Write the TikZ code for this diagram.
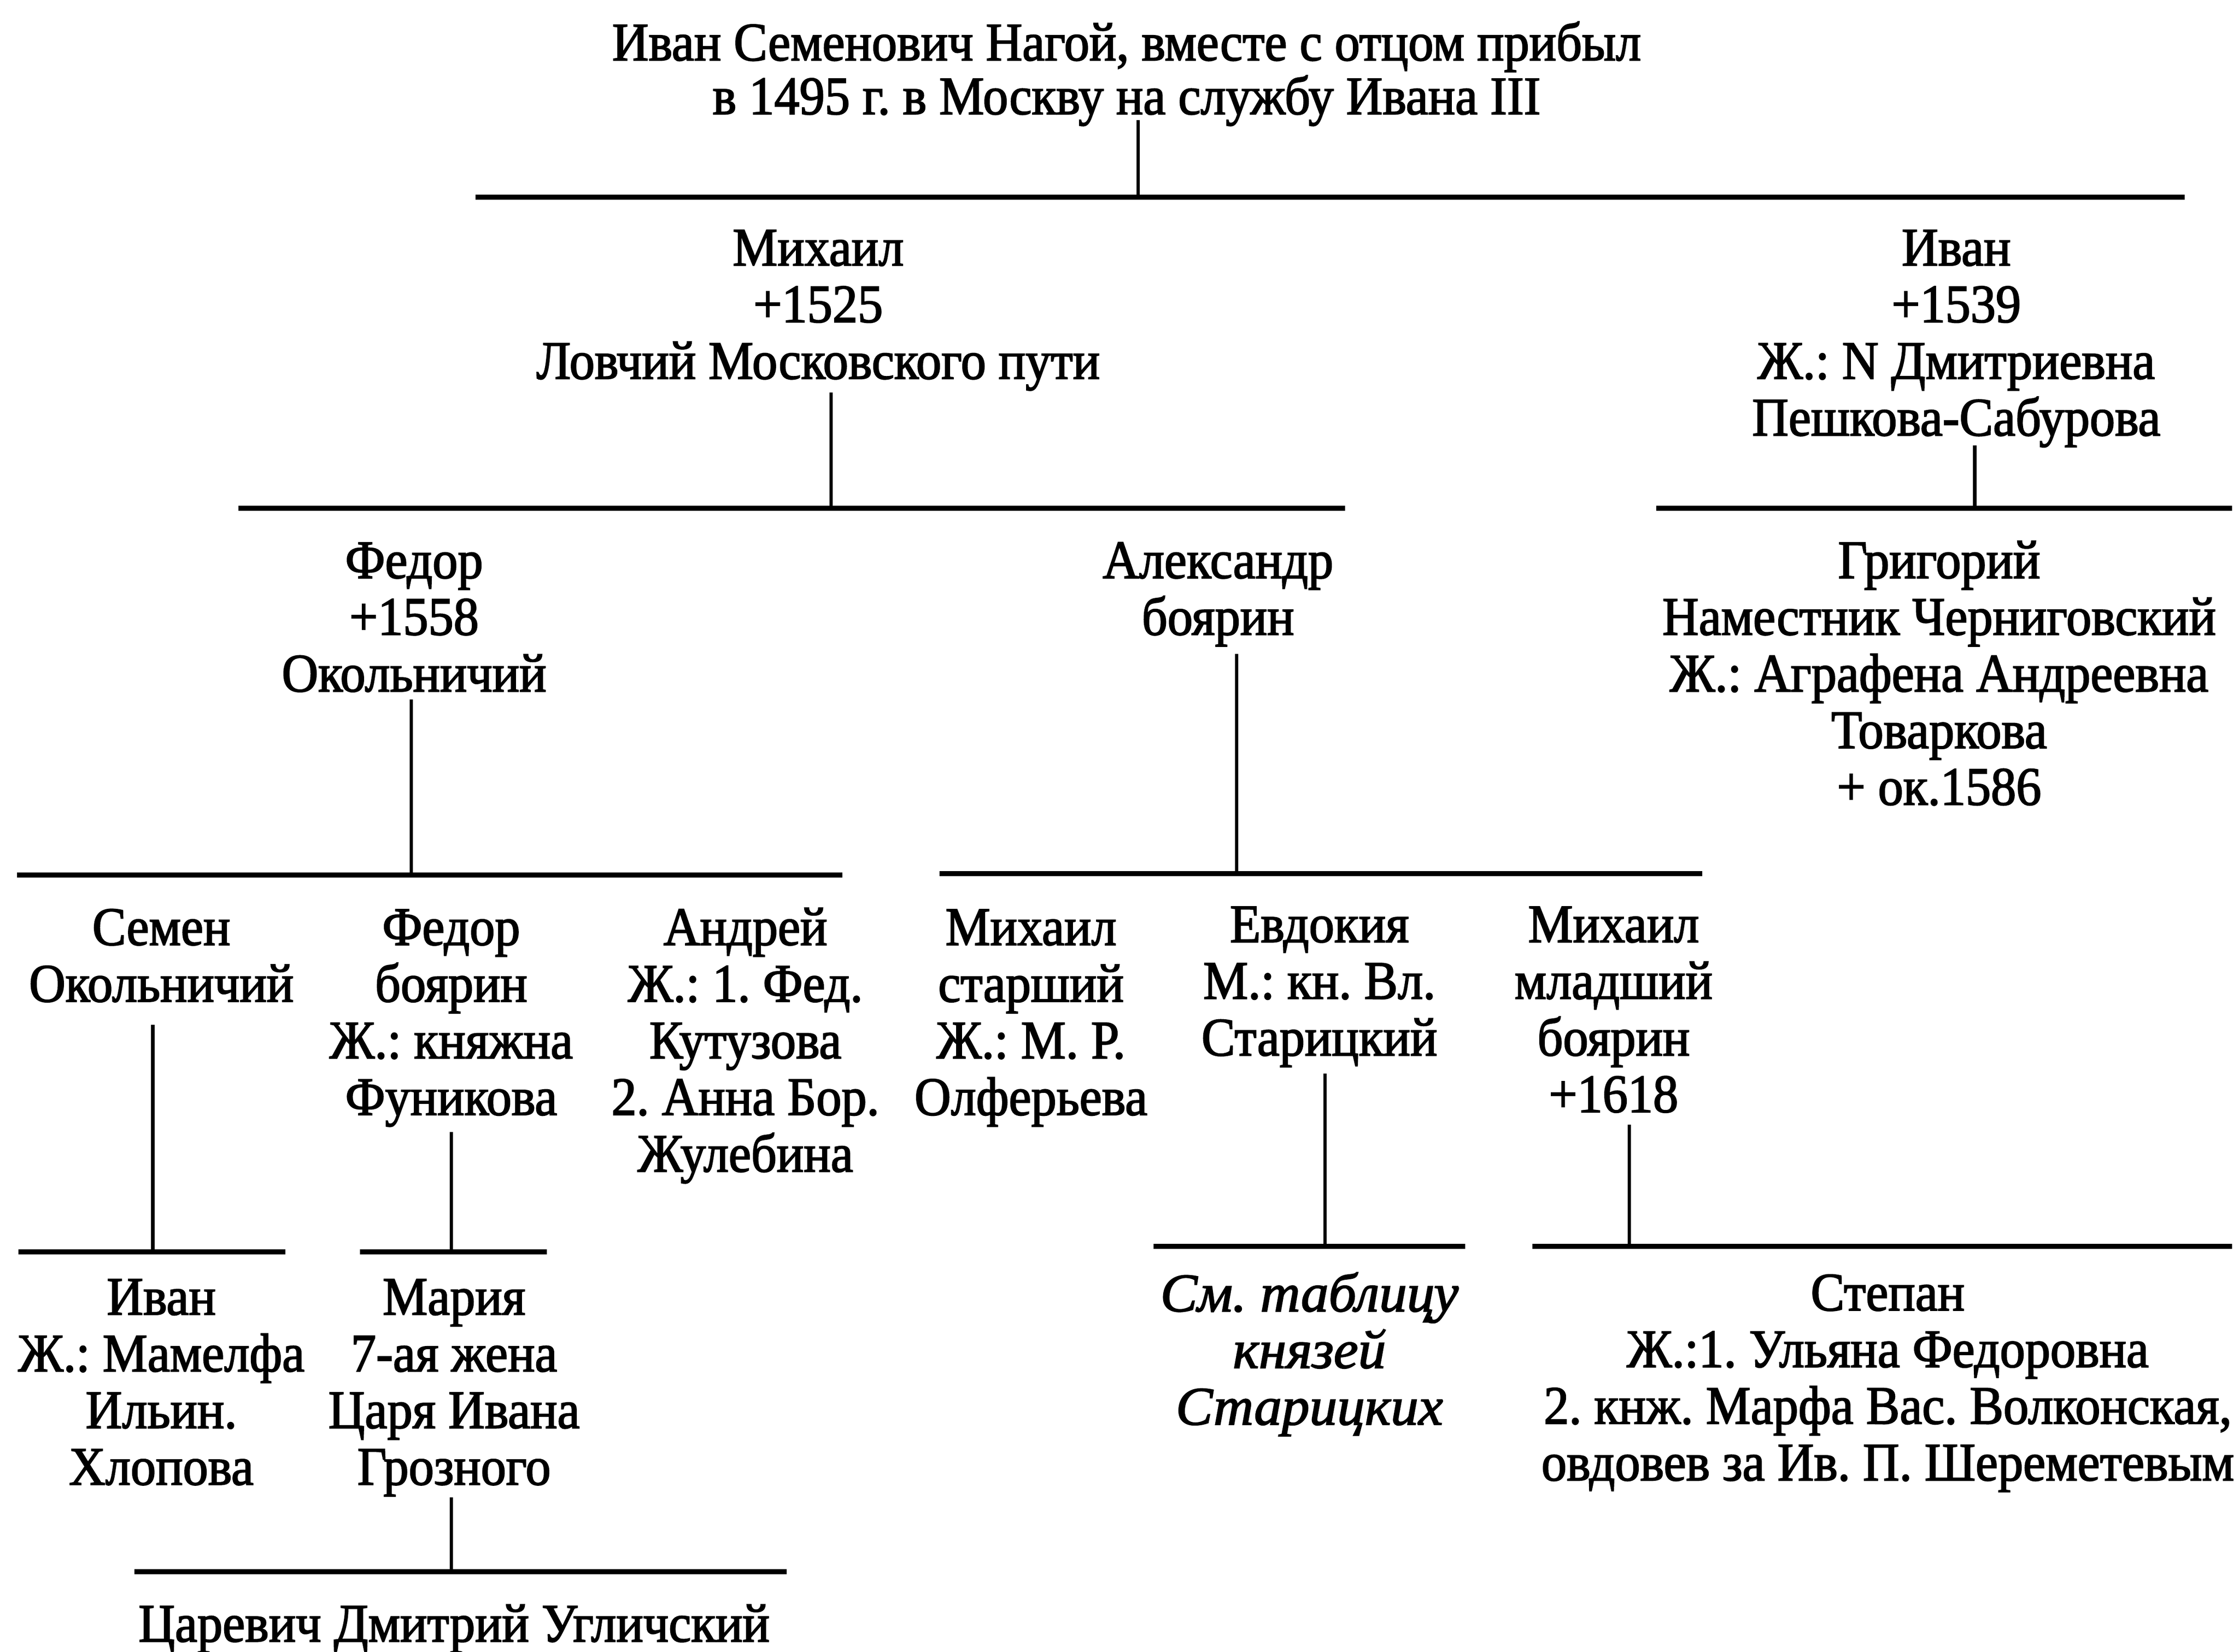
\documentclass[tikz,border=0pt]{standalone}
\usepackage{fontspec}
\newfontfamily\pf{Liberation Serif}[FakeBold=2, FakeStretch=0.93]
\newfontfamily\pfi{Liberation Serif Italic}[FakeBold=2, FakeStretch=1.02]
\newcommand\pfont{\pf\fontsize{38}{39.7}\selectfont\frenchspacing}
\newcommand\pfontit{\pfi\fontsize{38}{39.7}\selectfont\frenchspacing}
\newcommand\pfonttop{\pf\fontsize{38}{37.7}\selectfont\frenchspacing}
\begin{document}
\begin{tikzpicture}[x=1pt,y=-1pt]
\tikzset{
  person/.style={anchor=base, align=center, inner sep=0pt, font=\pfont},
  hbar/.style={line width=3.5pt},
  vbar/.style={line width=2.4pt}
}
\useasboundingbox (0,0) rectangle (1568,1157);
% nodes (anchored at the baseline of their last line)
\node[person, font=\pfonttop] (top) at (789,80) {Иван Семенович Нагой, вместе с отцом прибыл\\в 1495 г. в Москву на службу Ивана III};
\node[person] (mikh) at (573,265.4) {Михаил\\+1525\\Ловчий Московского пути};
\node[person] (ivan) at (1370,305.1) {Иван\\+1539\\Ж.: N Дмитриевна\\Пешкова-Сабурова};
\node[person] (fedor) at (290,484.4) {Федор\\+1558\\Окольничий};
\node[person] (alex) at (853,444.7) {Александр\\боярин};
\node[person] (grig) at (1358,563.8) {Григорий\\Наместник Черниговский\\Ж.: Аграфена Андреевна\\Товаркова\\+ ок.1586};
\node[person] (semen) at (113,701.7) {Семен\\Окольничий};
\node[person] (fedor2) at (316,781.1) {Федор\\боярин\\Ж.: княжна\\Фуникова};
\node[person] (andrey) at (522,820.8) {Андрей\\Ж.: 1. Фед.\\Кутузова\\2. Анна Бор.\\Жулебина};
\node[person] (mikhs) at (722,781.1) {Михаил\\старший\\Ж.: М. Р.\\Олферьева};
\node[person] (evdok) at (924,739.4) {Евдокия\\М.: кн. Вл.\\Старицкий};
\node[person] (mikhm) at (1130,779.1) {Михаил\\младший\\боярин\\+1618};
\node[person] (ivan2) at (113,1040.1) {Иван\\Ж.: Мамелфа\\Ильин.\\Хлопова};
\node[person] (maria) at (318,1040.1) {Мария\\7-ая жена\\Царя Ивана\\Грозного};
\node[person, font=\pfontit] (see) at (917,998) {См. таблицу\\князей\\Старицких};
\node[person] (stepan) at (1322,1037.1) {Степан\\Ж.:1. Ульяна Федоровна\\2. кнж. Марфа Вас. Волконская,\\овдовев за Ив. П. Шереметевым};
\node[person] (dmitr) at (318,1150) {Царевич Дмитрий Угличский};
% coordinates
\coordinate (t0) at (797,84);   \coordinate (b0) at (797,138);
\coordinate (l0) at (333,138);  \coordinate (r0) at (1530,138);
\coordinate (t1) at (582,275);  \coordinate (b1) at (582,356);
\coordinate (l1) at (167,356);  \coordinate (r1) at (942,356);
\coordinate (t2) at (1383,312); \coordinate (b2) at (1383,356);
\coordinate (l2) at (1160,356); \coordinate (r2) at (1563,356);
\coordinate (t3) at (288,490);  \coordinate (b3) at (288,613);
\coordinate (l3) at (12,613);   \coordinate (r3) at (590,613);
\coordinate (t4) at (866,458);  \coordinate (b4) at (866,612);
\coordinate (l4) at (658,612);  \coordinate (r4) at (1192,612);
\coordinate (t5) at (107,718);  \coordinate (b5) at (107,877);
\coordinate (l5) at (13,877);   \coordinate (r5) at (200,877);
\coordinate (t6) at (316,793);  \coordinate (b6) at (316,877);
\coordinate (l6) at (252,877);  \coordinate (r6) at (383,877);
\coordinate (t7) at (928,752);  \coordinate (b7) at (928,873);
\coordinate (l7) at (808,873);  \coordinate (r7) at (1026,873);
\coordinate (t8) at (1141,788); \coordinate (b8) at (1141,873);
\coordinate (l8) at (1073,873); \coordinate (r8) at (1563,873);
\coordinate (t9) at (316,1049); \coordinate (b9) at (316,1101);
\coordinate (l9) at (94,1101);  \coordinate (r9) at (551,1101);
% connectors
\foreach \i in {0,...,9} {
  \draw[vbar] (t\i) -- (b\i);
  \draw[hbar] (l\i) -- (r\i);
}
\end{tikzpicture}
\end{document}
